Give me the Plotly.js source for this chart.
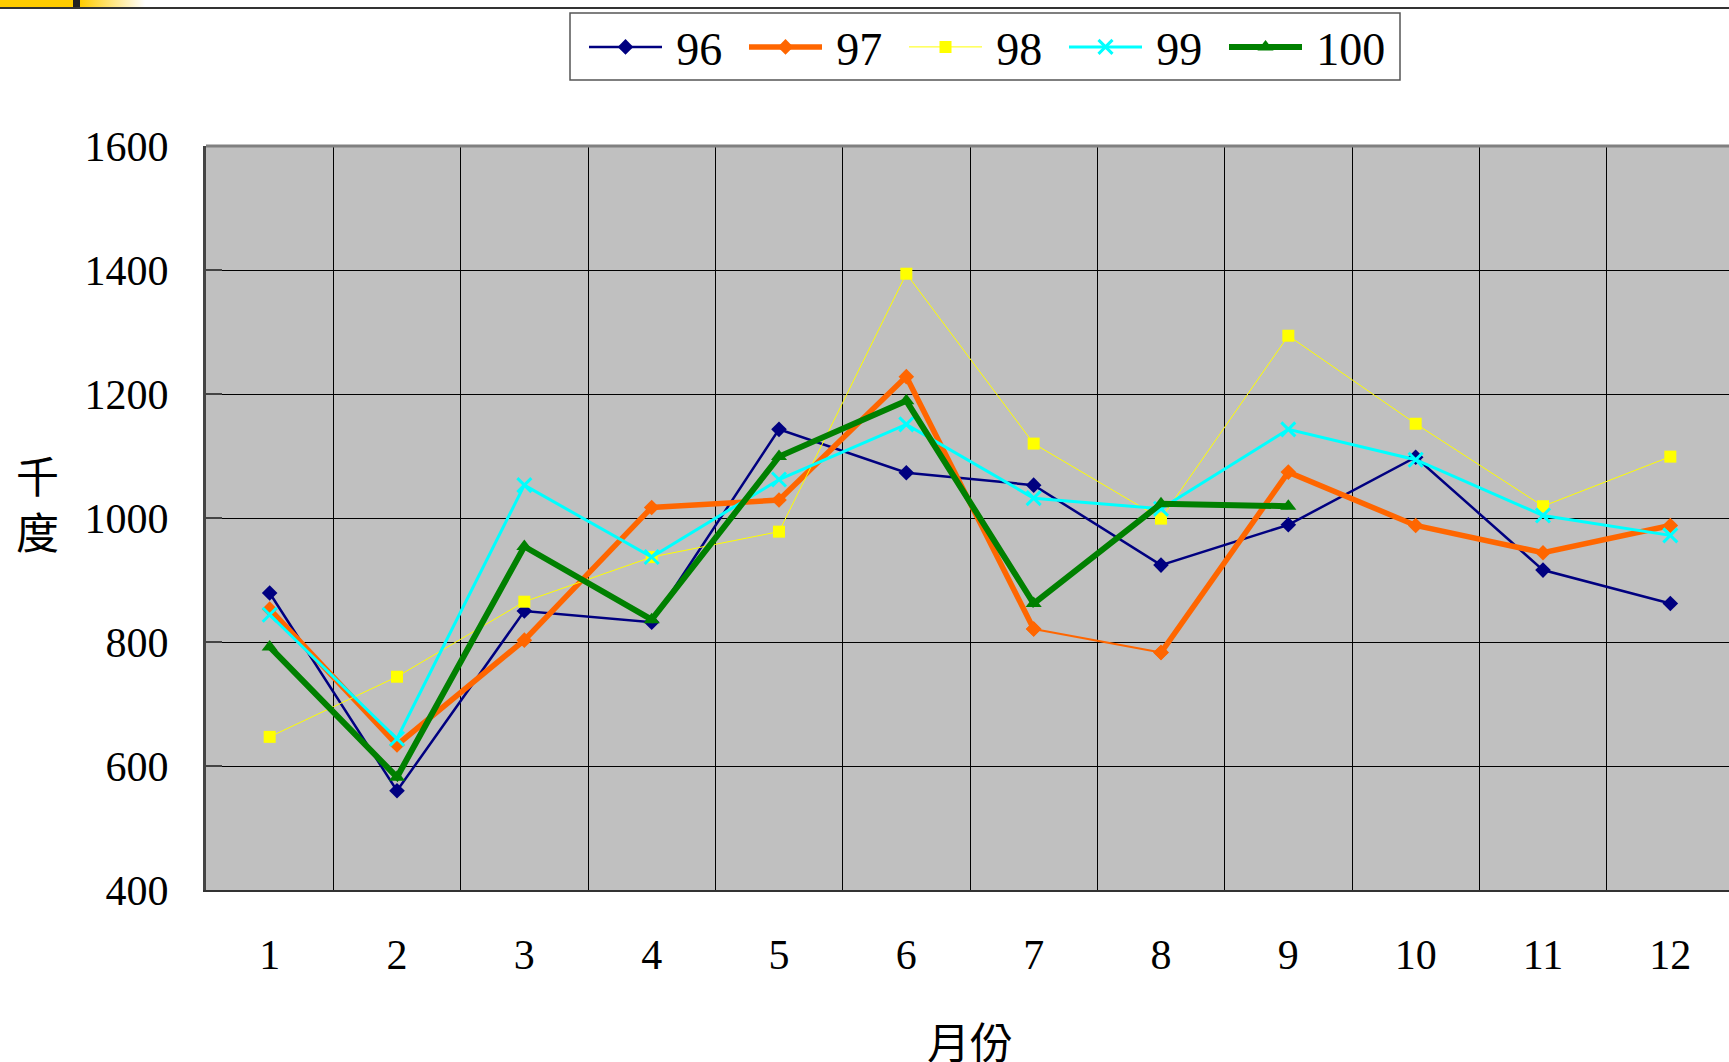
<!DOCTYPE html>
<html>
<head>
<meta charset="utf-8">
<script src="https://cdn.plot.ly/plotly-3.0.1.min.js"></script>
<style>
  html, body { margin: 0; padding: 0; overflow: hidden; background: #fff; width: 1729px; height: 1062px; }
  #chart { position: absolute; left: 0; top: 0; width: 1734px; height: 1062px; }
  #topline { position: absolute; left: 0; top: 7px; width: 1729px; height: 2px; background: #333; }
  #ybar { position: absolute; left: 0; top: 0; width: 73px; height: 7px; background: #FFCC00; }
  #dblock { position: absolute; left: 73px; top: 0; width: 7px; height: 7px; background: #222; }
  #grad { position: absolute; left: 80px; top: 0; width: 65px; height: 7px; background: linear-gradient(to right, #FFCC00, #ffffff); }
</style>
</head>
<body>
<div id="chart"></div>
<div id="topline"></div>
<div id="ybar"></div>
<div id="dblock"></div>
<div id="grad"></div>
<script>
const months = ['1','2','3','4','5','6','7','8','9','10','11','12'];
const seriesNames = ['96','97','98','99','100'];
const s96  = [879, 560, 850, 832, 1143, 1073, 1053, 924, 989, 1098, 916, 862];
const s97  = [853, 634, 803, 1017, 1029, 1228, 821, 783, 1074, 988, 944, 988];
const s98  = [647, 744, 865, 937, 978, 1394, 1120, 999, 1294, 1152, 1019, 1099];
const s99  = [844, 644, 1053, 937, 1062, 1151, 1032, 1015, 1143, 1094, 1004, 972];
const s100 = [792, 582, 954, 836, 1099, 1189, 862, 1023, 1019];
const yTickVals = [400, 600, 800, 1000, 1200, 1400, 1600];
const xTitle = '月份';
const yTitle = '千<br>度';

const serif = '"Liberation Serif", "Times New Roman", "Noto Sans CJK TC", serif';
const cjk = '"Noto Sans CJK TC", "Liberation Serif", sans-serif';
const gap = '\u2009';

const traces = [
  {
    x: months, y: s96, name: gap + seriesNames[0], type: 'scatter', mode: 'lines+markers',
    line: {color: '#000080', width: 2.5},
    marker: {symbol: 'diamond', size: 12, color: '#000080'}
  },
  {
    x: months.slice(0, 7), y: s97.slice(0, 7), name: gap + seriesNames[1], legendgroup: 'g97',
    type: 'scatter', mode: 'lines+markers',
    line: {color: '#FF6600', width: 5.5},
    marker: {symbol: 'diamond', size: 12, color: '#FF6600'}
  },
  {
    x: months.slice(6, 8), y: s97.slice(6, 8), name: seriesNames[1], legendgroup: 'g97', showlegend: false,
    type: 'scatter', mode: 'lines+markers',
    line: {color: '#FF6600', width: 2},
    marker: {symbol: 'diamond', size: 12, color: '#FF6600'}
  },
  {
    x: months.slice(7), y: s97.slice(7), name: seriesNames[1], legendgroup: 'g97', showlegend: false,
    type: 'scatter', mode: 'lines+markers',
    line: {color: '#FF6600', width: 5.5},
    marker: {symbol: 'diamond', size: 12, color: '#FF6600'}
  },
  {
    x: months, y: s98, name: gap + seriesNames[2], type: 'scatter', mode: 'lines+markers',
    line: {color: '#FFFF00', width: 1},
    marker: {symbol: 'square', size: 12, color: '#FFFF00'}
  },
  {
    x: months, y: s99, name: gap + seriesNames[3], type: 'scatter', mode: 'lines+markers',
    line: {color: '#00FFFF', width: 3},
    marker: {symbol: 'x-thin', size: 14, line: {color: '#00FFFF', width: 3}, color: '#00FFFF'}
  },
  {
    x: months.slice(0, s100.length), y: s100, name: gap + seriesNames[4], type: 'scatter', mode: 'lines+markers',
    line: {color: '#008000', width: 6},
    marker: {symbol: 'triangle-up', size: 14, color: '#008000'}
  }
];

const PL = 206, PT = 146, PB = 890, PW = 1528, PH = PB - PT;
const px = v => (v - PL) / PW;
const py = v => (PB - v) / PH;

const layout = {
  width: 1734, height: 1062,
  margin: {l: PL, r: 0, t: PT, b: 1062 - PB, autoexpand: false},
  paper_bgcolor: '#ffffff',
  plot_bgcolor: '#C0C0C0',
  showlegend: true,
  legend: {
    orientation: 'h',
    x: px(584), xanchor: 'left',
    y: py(47), yanchor: 'middle',
    bgcolor: 'rgba(0,0,0,0)', borderwidth: 0,
    font: {family: serif, size: 46, color: '#000'},
    itemwidth: 73,
    entrywidth: 72, entrywidthmode: 'pixels',
    traceorder: 'normal'
  },
  xaxis: {
    type: 'category',
    categoryorder: 'array', categoryarray: months,
    range: [-0.5, 11.5],
    tickson: 'boundaries',
    showgrid: true, gridcolor: '#000000', gridwidth: 1,
    showline: true, linecolor: '#333333', linewidth: 2,
    ticks: '', ticklabelstandoff: 27,
    tickfont: {family: serif, size: 42, color: '#000'},
    zeroline: false, fixedrange: true
  },
  yaxis: {
    range: [400, 1600],
    tickvals: yTickVals,
    ticktext: yTickVals.map(String),
    showgrid: true, gridcolor: '#000000', gridwidth: 1,
    showline: true, linecolor: '#444444', linewidth: 3,
    ticks: 'inside', ticklen: 16, tickwidth: 2, tickcolor: '#444444',
    ticklabelstandoff: 26,
    tickfont: {family: serif, size: 42, color: '#000'},
    zeroline: false, fixedrange: true
  },
  shapes: [
    {type: 'line', xref: 'paper', yref: 'paper', x0: 0, x1: 1, y0: 1, y1: 1,
     line: {color: '#808080', width: 3}},
    {type: 'rect', xref: 'paper', yref: 'paper', layer: 'above',
     x0: px(570), x1: px(1400), y0: py(80), y1: py(13),
     fillcolor: '#ffffff', line: {color: '#555555', width: 1.5}}
  ],
  annotations: [
    {text: yTitle, xref: 'paper', yref: 'paper', x: 0, y: py(502),
     xanchor: 'center', yanchor: 'middle', xshift: 37 - PL, showarrow: false,
     font: {family: cjk, size: 43, color: '#000'}},
    {text: xTitle, xref: 'paper', yref: 'paper', x: 0.5, y: py(1040),
     xanchor: 'center', yanchor: 'middle', showarrow: false,
     font: {family: cjk, size: 43, color: '#000'}}
  ]
};

Plotly.newPlot('chart', traces, layout, {staticPlot: true, displayModeBar: false});
</script>
</body>
</html>
